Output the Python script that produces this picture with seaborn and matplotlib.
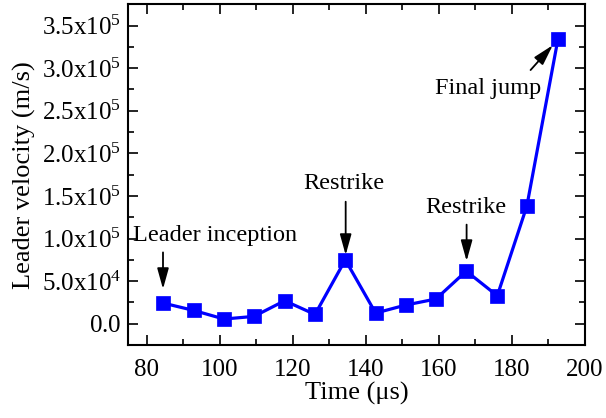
import numpy as np
import pandas as pd
import matplotlib
matplotlib.use('Agg')
from matplotlib import pyplot as plt
from matplotlib.ticker import MultipleLocator
import seaborn as sns

time_us = [84.5, 92.9, 101.2, 109.4, 117.8, 126.1, 134.4, 142.7, 150.9, 159.2, 167.5, 176.0, 184.1, 192.6]
velocity = [2.43e4, 1.56e4, 0.55e4, 0.86e4, 2.7e4, 1.09e4, 7.5e4, 1.25e4, 2.19e4, 2.9e4, 6.18e4, 3.28e4, 1.383e5, 3.34e5]

y_tick_labels = ['0.0', '5.0x10^{4}', '1.0x10^{5}', '1.5x10^{5}', '2.0x10^{5}',
                 '2.5x10^{5}', '3.0x10^{5}', '3.5x10^{5}']

sns.set_style('ticks')
plt.rcParams['font.family'] = ['Liberation Serif', 'DejaVu Serif']
plt.rcParams['mathtext.fontset'] = 'custom'
plt.rcParams['mathtext.rm'] = 'Liberation Serif'
plt.rcParams['text.color'] = 'black'
plt.rcParams['axes.labelcolor'] = 'black'

df = pd.DataFrame({'time': time_us, 'velocity': velocity})

fig = plt.figure(figsize=(6.06, 4.18), dpi=100)
ax = fig.add_axes([0.2117, 0.1746, 0.7536, 0.8151])

sns.lineplot(data=df, x='time', y='velocity', ax=ax, color='#0000ff', linewidth=2.3,
             marker='s', markersize=9.5, markeredgecolor='#0000ff', markeredgewidth=0.5)

ax.set_xlim(75, 200)
ax.set_ylim(-2.5e4, 3.75e5)
ax.xaxis.set_major_locator(MultipleLocator(20))
ax.xaxis.set_minor_locator(MultipleLocator(10))
ax.yaxis.set_minor_locator(MultipleLocator(2.5e4))
ax.set_yticks(np.arange(0, 3.51e5, 5e4))
ax.set_yticklabels([r'$\mathregular{' + t + '}$' for t in y_tick_labels])

ax.tick_params(which='both', direction='in', top=True, right=True, labelsize=18, width=1.2, colors='black')
ax.tick_params(which='major', length=7)
ax.tick_params(which='minor', length=4)
ax.tick_params(axis='x', which='major', pad=10)
ax.tick_params(axis='y', which='major', pad=5)
for s in ax.spines.values():
    s.set_linewidth(1.5)
    s.set_color('black')

ax.set_xlabel('Time (μs)', fontsize=19, labelpad=1)
ax.set_ylabel('Leader velocity (m/s)', fontsize=19, labelpad=4)

arrow = dict(arrowstyle='-|>,head_width=0.25,head_length=0.9', color='black', lw=1.3, mutation_scale=14)
ax.text(76.2, 1.03e5, 'Leader inception', fontsize=17.5, ha='left', va='center')
ax.annotate('', xy=(84.5, 3.75e4), xytext=(84.5, 8.7e4), arrowprops=arrow)
ax.text(134.0, 1.65e5, 'Restrike', fontsize=17.5, ha='center', va='center')
ax.annotate('', xy=(134.5, 7.74e4), xytext=(134.5, 1.465e5), arrowprops=arrow)
ax.text(167.3, 1.36e5, 'Restrike', fontsize=17.5, ha='center', va='center')
ax.annotate('', xy=(167.6, 7.03e4), xytext=(167.6, 1.196e5), arrowprops=arrow)
ax.text(173.4, 2.767e5, 'Final jump', fontsize=17.5, ha='center', va='center')
ax.annotate('', xy=(191.7, 3.294e5), xytext=(184.6, 2.954e5), arrowprops=arrow)

fig.savefig('out.png', dpi=100)
